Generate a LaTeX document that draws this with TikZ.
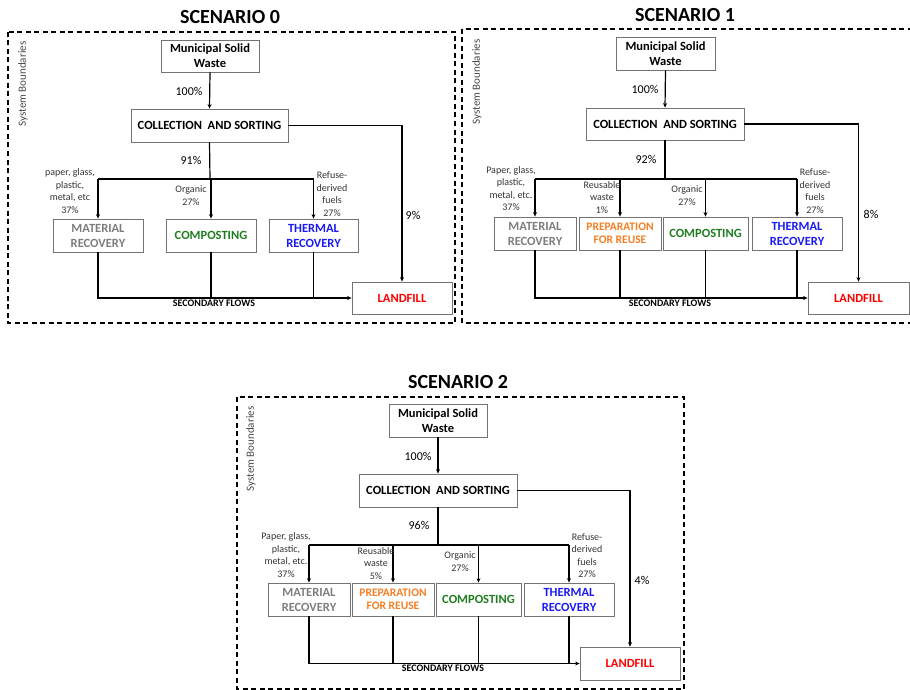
\documentclass[tikz,border=0pt]{standalone}
\usepackage{fontspec}
\setmainfont{Carlito}
\usetikzlibrary{arrows.meta}
\definecolor{boxgray}{RGB}{115,115,115}
\definecolor{txtgray}{RGB}{125,125,125}
\definecolor{sbgray}{RGB}{70,70,70}
\definecolor{orng}{RGB}{245,125,35}
\definecolor{grn}{RGB}{30,125,30}
\definecolor{blu}{RGB}{25,25,245}
\definecolor{rd}{RGB}{255,0,0}
\tikzset{
  box/.style={draw=boxgray, line width=0.8pt, inner sep=0pt, align=center,
    font=\bfseries\fontsize{12.5}{15}\selectfont},
  flow/.style={line width=1.2pt, draw=black},
  arr/.style={flow, -{Stealth[length=4.5pt,width=4pt]}},
  pct/.style={font=\fontsize{12}{14}\selectfont, inner sep=0pt},
  lbl/.style={font=\fontsize{10}{12.5}\selectfont, align=center, inner sep=0pt, text=black!80},
  ttl/.style={font=\bfseries\fontsize{20}{24}\selectfont, inner sep=0pt},
  secf/.style={font=\bfseries\fontsize{10}{12}\selectfont, inner sep=0pt},
  bound/.style={draw=black, line width=1.2pt, dash pattern=on 5pt off 3.5pt},
  sysb/.style={rotate=90, font=\fontsize{11}{13}\selectfont, text=sbgray, inner sep=0pt}
}
\begin{document}
\begin{tikzpicture}[x=1pt,y=-1pt]
\useasboundingbox (0,0) rectangle (910,690);
\clip (0,0) rectangle (910,690);

% ================= SCENARIO 0 =================
\node[ttl] (t0) at (230,17) {SCENARIO 0};
\draw[bound] (8,32) rectangle (455,323);
\node[sysb] (sb0) at (23,84) {System Boundaries};
\node[box, minimum width=98pt, minimum height=32pt] (msw0) at (210,56) {Municipal Solid\\Waste};
\node[box, minimum width=157pt, minimum height=33pt] (cs0) at (209.5,125.5) {COLLECTION\ \ AND SORTING};
\node[box, minimum width=90pt, minimum height=33pt, text=txtgray] (mr0) at (98,235.5) {MATERIAL\\RECOVERY};
\node[box, minimum width=90pt, minimum height=33pt, text=grn] (co0) at (211,235.5) {COMPOSTING};
\node[box, minimum width=89pt, minimum height=33pt, text=blu] (tr0) at (313.5,235.5) {THERMAL\\RECOVERY};
\node[box, minimum width=100pt, minimum height=32pt, text=rd] (lf0) at (402,298) {LANDFILL};
\coordinate (bus0) at (210,179);
\draw[arr] (msw0.south) -- (cs0.north);
\draw[flow] (cs0.south) -- (bus0);
\draw[flow] (mr0.north |- bus0) -- (tr0.north |- bus0);
\draw[arr] (mr0.north |- bus0) -- (mr0.north);
\draw[arr] (co0.north |- bus0) -- (co0.north);
\draw[arr] (tr0.north |- bus0) -- (tr0.north);
\draw[arr] (cs0.east) -| (lf0.north);
\draw[arr] (mr0.south) |- (lf0.west);
\draw[flow] (co0.south) -- (co0.south |- lf0.west);
\draw[flow] (tr0.south) -- (tr0.south |- lf0.west);
\node[pct] (p0a) at (189,91) {100\%};
\node[pct] (p0b) at (191,160) {91\%};
\node[pct] (p0c) at (413,215) {9\%};
\node[lbl] (l0a) at (70,191) {paper, glass,\\plastic,\\metal, etc\\37\%};
\node[lbl] (l0b) at (191,195.5) {Organic\\27\%};
\node[lbl] (l0c) at (332,194) {Refuse-\\derived\\fuels\\27\%};
\node[secf] (s0) at (214,303) {SECONDARY FLOWS};

% ================= SCENARIO 1 =================
\node[ttl] (t1) at (685,15) {SCENARIO 1};
\draw[bound] (462,29) rectangle (916,323);
\node[sysb] (sb1) at (477,82) {System Boundaries};
\node[box, minimum width=99pt, minimum height=33pt] (msw1) at (665.5,53.5) {Municipal Solid\\Waste};
\node[box, minimum width=158pt, minimum height=32pt] (cs1) at (665,124) {COLLECTION\ \ AND SORTING};
\node[box, minimum width=82pt, minimum height=33pt, text=txtgray] (mr1) at (535,233.5) {MATERIAL\\RECOVERY};
\node[box, minimum width=82pt, minimum height=33pt, text=orng, font=\bfseries\fontsize{11.5}{13.5}\selectfont] (pr1) at (620,233.5) {PREPARATION\\FOR REUSE};
\node[box, minimum width=85pt, minimum height=33pt, text=grn] (co1) at (705.5,233.5) {COMPOSTING};
\node[box, minimum width=90pt, minimum height=33pt, text=blu] (tr1) at (797,233.5) {THERMAL\\RECOVERY};
\node[box, minimum width=101pt, minimum height=32pt, text=rd] (lf1) at (858.5,298) {LANDFILL};
\coordinate (bus1) at (665,179);
\draw[arr] (msw1.south) -- (cs1.north);
\draw[flow] (cs1.south) -- (bus1);
\draw[flow] (mr1.north |- bus1) -- (tr1.north |- bus1);
\draw[arr] (mr1.north |- bus1) -- (mr1.north);
\draw[arr] (pr1.north |- bus1) -- (pr1.north);
\draw[arr] (co1.north |- bus1) -- (co1.north);
\draw[arr] (tr1.north |- bus1) -- (tr1.north);
\draw[arr] (cs1.east) -| (lf1.north);
\draw[arr] (mr1.south) |- (lf1.west);
\draw[flow] (pr1.south) -- (pr1.south |- lf1.west);
\draw[flow] (co1.south) -- (co1.south |- lf1.west);
\draw[flow] (tr1.south) -- (tr1.south |- lf1.west);
\node[pct] (p1a) at (645,89) {100\%};
\node[pct] (p1b) at (646,159) {92\%};
\node[pct] (p1c) at (871,214) {8\%};
\node[lbl] (l1a) at (511,188.5) {Paper, glass,\\plastic,\\metal, etc.\\37\%};
\node[lbl] (l1b) at (602,197.5) {Reusable\\waste\\1\%};
\node[lbl] (l1c) at (687,195.5) {Organic\\27\%};
\node[lbl] (l1d) at (815,191) {Refuse-\\derived\\fuels\\27\%};
\node[secf] (s1) at (670,303) {SECONDARY FLOWS};

% ================= SCENARIO 2 =================
\node[ttl] (t2) at (458,382) {SCENARIO 2};
\draw[bound] (237,397) rectangle (684,689);
\node[sysb] (sb2) at (251,449) {System Boundaries};
\node[box, minimum width=98pt, minimum height=33pt] (msw2) at (438,420.5) {Municipal Solid\\Waste};
\node[box, minimum width=158pt, minimum height=33pt] (cs2) at (438,490.5) {COLLECTION\ \ AND SORTING};
\node[box, minimum width=82pt, minimum height=33pt, text=txtgray] (mr2) at (309,599.5) {MATERIAL\\RECOVERY};
\node[box, minimum width=82pt, minimum height=33pt, text=orng, font=\bfseries\fontsize{11.5}{13.5}\selectfont] (pr2) at (393,599.5) {PREPARATION\\FOR REUSE};
\node[box, minimum width=85pt, minimum height=33pt, text=grn] (co2) at (478.5,599.5) {COMPOSTING};
\node[box, minimum width=90pt, minimum height=33pt, text=blu] (tr2) at (569,599.5) {THERMAL\\RECOVERY};
\node[box, minimum width=100pt, minimum height=33pt, text=rd] (lf2) at (630,663.5) {LANDFILL};
\coordinate (bus2) at (438,545);
\draw[arr] (msw2.south) -- (cs2.north);
\draw[flow] (cs2.south) -- (bus2);
\draw[flow] (mr2.north |- bus2) -- (tr2.north |- bus2);
\draw[arr] (mr2.north |- bus2) -- (mr2.north);
\draw[arr] (pr2.north |- bus2) -- (pr2.north);
\draw[arr] (co2.north |- bus2) -- (co2.north);
\draw[arr] (tr2.north |- bus2) -- (tr2.north);
\draw[arr] (cs2.east) -| (lf2.north);
\draw[arr] (mr2.south) |- (lf2.west);
\draw[flow] (pr2.south) -- (pr2.south |- lf2.west);
\draw[flow] (co2.south) -- (co2.south |- lf2.west);
\draw[flow] (tr2.south) -- (tr2.south |- lf2.west);
\node[pct] (p2a) at (418,456) {100\%};
\node[pct] (p2b) at (419,525) {96\%};
\node[pct] (p2c) at (642,580) {4\%};
\node[lbl] (l2a) at (286,555) {Paper, glass,\\plastic,\\metal, etc.\\37\%};
\node[lbl] (l2b) at (376,563.5) {Reusable\\waste\\5\%};
\node[lbl] (l2c) at (460,561.5) {Organic\\27\%};
\node[lbl] (l2d) at (587,555.5) {Refuse-\\derived\\fuels\\27\%};
\node[secf] (s2) at (443,668) {SECONDARY FLOWS};
\end{tikzpicture}
\end{document}
